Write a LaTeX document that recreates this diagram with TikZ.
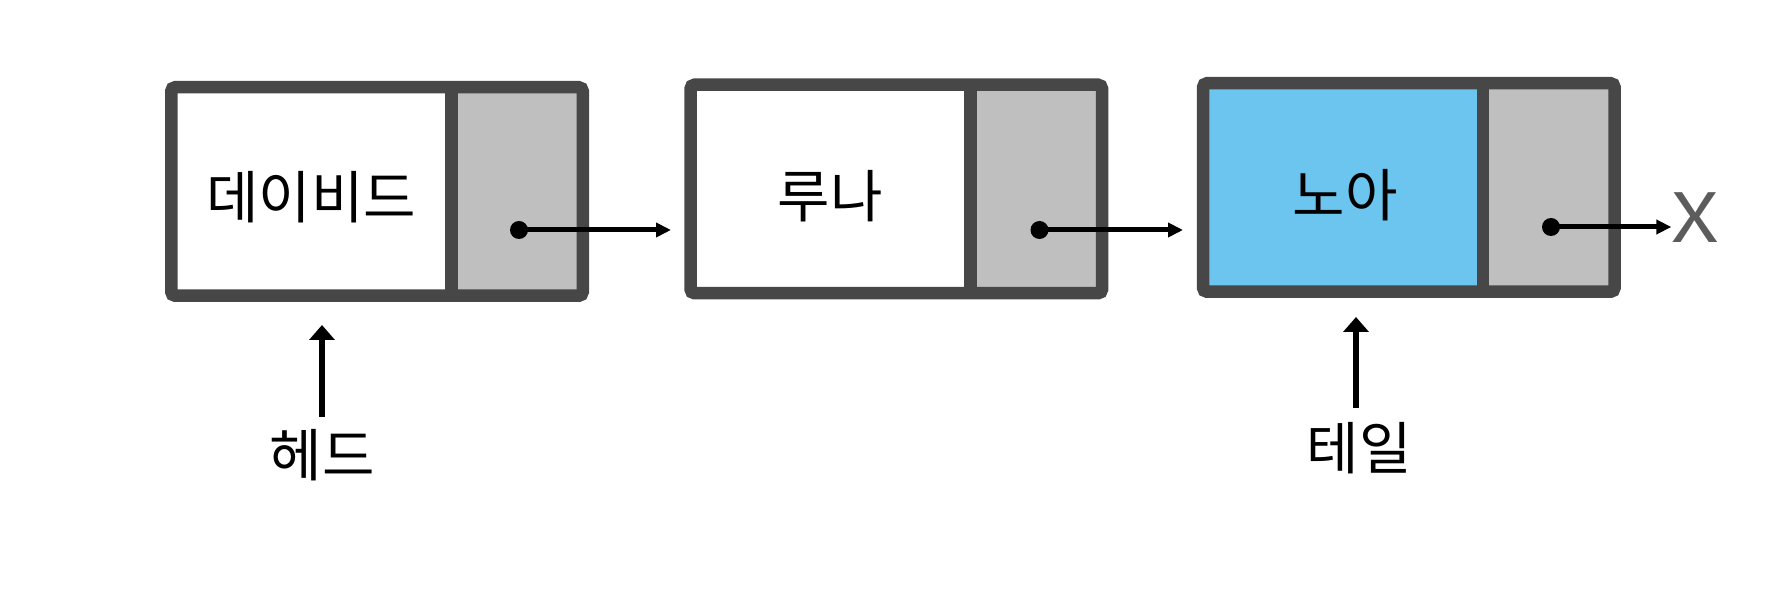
\documentclass[tikz,border=0pt]{standalone}
\usepackage{fontspec}
\setmainfont{Noto Sans CJK KR}
\usetikzlibrary{arrows.meta,calc}
\definecolor{boxline}{HTML}{474747}
\definecolor{ptrgray}{HTML}{BFBFBF}
\definecolor{tailblue}{HTML}{6CC5EE}
\definecolor{xgray}{HTML}{5C5C5C}
\tikzset{
  datacell/.style={rectangle, inner sep=0pt, minimum width=139.875pt, minimum height=104.25pt},
  ptrcell/.style={rectangle, inner sep=0pt, minimum width=65.875pt, minimum height=104.25pt, fill=ptrgray},
  outerbox/.style={rectangle, inner sep=0pt, minimum width=205.75pt, minimum height=104.25pt, draw=boxline, line width=6.25pt, rounded corners=2pt},
  divider/.style={draw=boxline, line width=6.25pt},
  dotnode/.style={circle, fill=black, inner sep=0pt, minimum size=9pt},
  ptrarrow/.style={draw=black, line width=2.5pt, -{Triangle[length=7.5pt,width=7pt]}},
  uparrow/.style={draw=black, line width=3pt, -{Triangle[length=7.5pt,width=12.5pt]}},
  celltext/.style={font=\fontsize{28.5pt}{34pt}\selectfont, text=black},
  labeltext/.style={font=\fontsize{28.5pt}{34pt}\selectfont, text=black},
}
\begin{document}
\begin{tikzpicture}[x=0.5pt,y=-0.5pt]
\useasboundingbox (0,0) rectangle (1776,592);
% ---- node 1 ----
\node[datacell, fill=white] (d1) at (311.1,191.5) {};
\node[ptrcell] (p1) at (516.9,191.5) {};
\node[outerbox] (n1) at (377,191.5) {};
\draw[divider] (d1.north east) -- (d1.south east);
\node[celltext] (t1) at (311,197.5) {데이비드};
\node[dotnode] (c1) at (519,230) {};
% ---- node 2 ----
\node[datacell, fill=white] (d2) at (830.4,189) {};
\node[ptrcell] (p2) at (1036.2,189) {};
\node[outerbox] (n2) at (896.3,189) {};
\draw[divider] (d2.north east) -- (d2.south east);
\node[celltext] (t2) at (830,196.5) {루나};
\node[dotnode] (c2) at (1039.5,230) {};
% ---- node 3 ----
\node[datacell, fill=tailblue] (d3) at (1342.9,187.5) {};
\node[ptrcell] (p3) at (1548.7,187.5) {};
\node[outerbox] (n3) at (1408.8,187.5) {};
\draw[divider] (d3.north east) -- (d3.south east);
\node[celltext] (t3) at (1345,195.5) {노아};
\node[dotnode] (c3) at (1551,227) {};
\node[text=xgray, font=\fontsize{34pt}{40pt}\selectfont, inner sep=0pt] (xend) at (1695.5,218) {\scalebox{1.22}[1]{X}};
% ---- pointers ----
\coordinate (e1) at (671,230);
\coordinate (e2) at (1183,230);
\draw[ptrarrow] (c1.center) -- (e1);
\draw[ptrarrow] (c2.center) -- (e2);
\draw[ptrarrow] (c3.center) -- (xend.west |- c3.center);
% ---- head / tail ----
\node[labeltext] (head) at (322,455) {헤드};
\node[labeltext] (tail) at (1359,448) {테일};
\coordinate (hb) at (322,417);
\coordinate (ht) at (322,325);
\coordinate (tb) at (1356,408);
\coordinate (tt) at (1356,317);
\draw[uparrow] (hb) -- (ht);
\draw[uparrow] (tb) -- (tt);
\end{tikzpicture}
\end{document}
